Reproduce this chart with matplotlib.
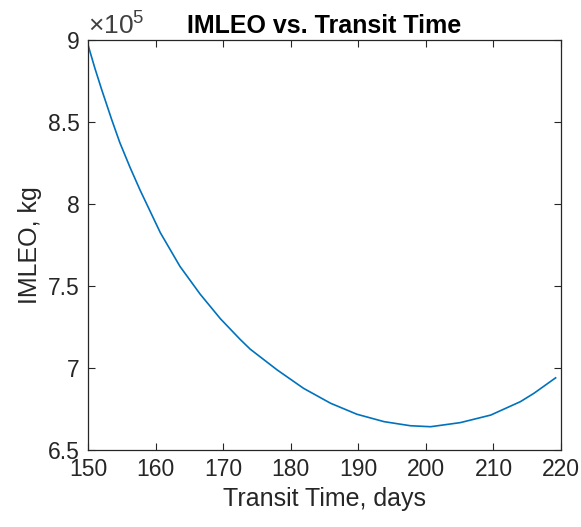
import matplotlib
matplotlib.use('Agg')
import matplotlib.pyplot as plt
from matplotlib.ticker import FuncFormatter

# --- style close to MATLAB defaults ---
plt.rcParams['font.family'] = ['Liberation Sans', 'DejaVu Sans']
plt.rcParams['mathtext.default'] = 'regular'
plt.rcParams['xtick.direction'] = 'in'
plt.rcParams['ytick.direction'] = 'in'

# --- data ---
transit_days = [150, 151, 152, 153.5, 154.7, 156.2, 157.7, 160.7, 163.6, 166.6, 169.6, 172.5,
                174.0, 178.0, 181.9, 185.9, 189.8, 193.8, 197.7, 200.7, 205.1, 209.6,
                214.0, 216.0, 219.2]
imleo_kg = [8.97e5, 8.83e5, 8.70e5, 8.515e5, 8.375e5, 8.225e5, 8.085e5, 7.825e5, 7.62e5, 7.45e5,
            7.30e5, 7.175e5, 7.115e5, 6.988e5, 6.876e5, 6.785e5, 6.718e5, 6.673e5, 6.648e5,
            6.642e5, 6.667e5, 6.713e5, 6.795e5, 6.846e5, 6.94e5]

x_ticks = [150, 160, 170, 180, 190, 200, 210, 220]
y_ticks = [6.5e5, 7e5, 7.5e5, 8e5, 8.5e5, 9e5]

dark = '#262626'

fig = plt.figure(figsize=(5.81, 5.27), dpi=100)
ax = fig.add_axes([0.1515, 0.1461, 0.8141, 0.7780])

ax.plot(transit_days, imleo_kg, color='#0072BD', linewidth=1.2)

ax.set_xlim(150, 220)
ax.set_ylim(6.5e5, 9e5)
ax.set_xticks(x_ticks)
ax.set_yticks(y_ticks)
ax.yaxis.set_major_formatter(FuncFormatter(lambda v, p: '%g' % (v / 1e5)))

ax.tick_params(axis='both', which='both', top=True, right=True, length=5,
               width=0.8, color=dark, labelcolor=dark, labelsize=16.5, pad=6)
for sp in ax.spines.values():
    sp.set_color(dark)
    sp.set_linewidth(0.9)

ax.text(0.0, 1.0, r'$\times10^{5}$', transform=ax.transAxes, fontsize=19,
        color='#404040', ha='left', va='bottom')

ax.set_xlabel('Transit Time, days', fontsize=18, color=dark, labelpad=4)
ax.set_ylabel('IMLEO, kg', fontsize=18, color=dark)
ax.set_title('IMLEO vs. Transit Time', fontsize=18, fontweight='bold', color='black', pad=5)

fig.savefig('out.png', dpi=100)
